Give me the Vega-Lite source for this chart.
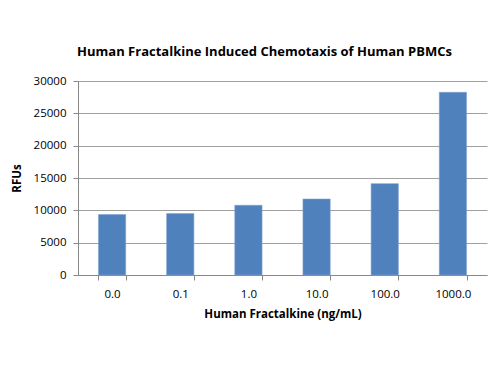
{
  "$schema": "https://vega.github.io/schema/vega-lite/v6.json",
  "autosize": "none",
  "width": 409,
  "height": 194,
  "padding": {"left": 78, "top": 81, "right": 13, "bottom": 100},
  "background": "white",
  "title": {
    "text": "Human Fractalkine Induced Chemotaxis of Human PBMCs",
    "font": "Open Sans",
    "fontSize": 13,
    "fontWeight": "bold",
    "color": "#000000",
    "anchor": "middle",
    "dx": -18,
    "offset": 16
  },
  "data": {
    "values": [
      {"dose": "0.0", "rfu": 9340},
      {"dose": "0.1", "rfu": 9495},
      {"dose": "1.0", "rfu": 10780},
      {"dose": "10.0", "rfu": 11750},
      {"dose": "100.0", "rfu": 14130},
      {"dose": "1000.0", "rfu": 28250}
    ]
  },
  "mark": {"type": "bar", "color": "#4F81BD", "stroke": "#7FA3D0", "strokeWidth": 0.6},
  "encoding": {
    "x": {
      "field": "dose",
      "type": "ordinal",
      "sort": null,
      "scale": {"paddingInner": 0.6, "paddingOuter": 0.3},
      "axis": {
        "title": "Human Fractalkine (ng/mL)",
        "titleFont": "Open Sans",
        "titleFontSize": 11.5,
        "titleFontWeight": "bold",
        "titleColor": "#000000",
        "titlePadding": 9,
        "labelFont": "Open Sans",
        "labelFontSize": 11.5,
        "labelColor": "#000000",
        "labelAngle": 0,
        "labelPadding": 8,
        "tickBand": "extent",
        "tickColor": "#888888",
        "tickSize": 5,
        "domainColor": "#888888",
        "grid": false
      }
    },
    "y": {
      "field": "rfu",
      "type": "quantitative",
      "scale": {"domain": [0, 30000], "nice": false},
      "axis": {
        "title": "RFUs",
        "titleFont": "Open Sans",
        "titleFontSize": 11.5,
        "titleFontWeight": "bold",
        "titleColor": "#000000",
        "titlePadding": 11,
        "values": [0, 5000, 10000, 15000, 20000, 25000, 30000],
        "format": "d",
        "labelFont": "Open Sans",
        "labelFontSize": 11.5,
        "labelColor": "#000000",
        "labelPadding": 7,
        "tickColor": "#888888",
        "tickSize": 5,
        "domainColor": "#888888",
        "grid": true,
        "gridColor": "#A0A0A0",
        "gridWidth": 1
      }
    }
  },
  "config": {"view": {"stroke": null}}
}
